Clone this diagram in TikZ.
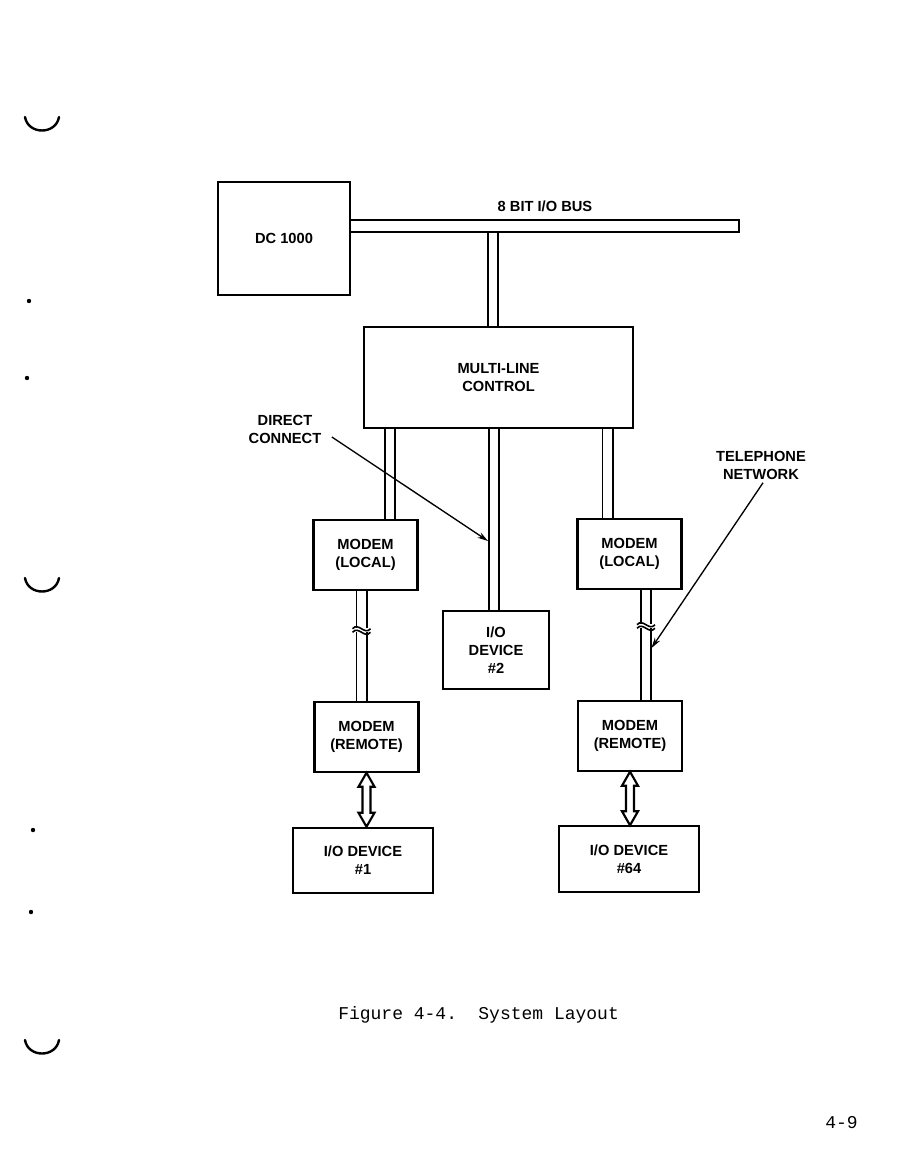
\documentclass[tikz,border=0pt]{standalone}
\usepackage{fontspec}
\setsansfont{Liberation Sans}
\setmonofont{Liberation Mono}
\usetikzlibrary{arrows.meta,calc,positioning,backgrounds}
\tikzset{
 layout/.style={x=.75pt,y=-.75pt,line join=miter},
 unit/.style={draw,line width=1.6pt,align=center,inner sep=0pt,
   font=\sffamily\bfseries\fontsize{11}{13.5}\selectfont},
 modem/.style={unit,minimum width=78pt,minimum height=52pt},
 device/.style={unit,minimum width=105pt,minimum height=49pt},
 bus/.style={draw,line width=1.3pt,double,double distance=6.4pt},
 wave/.style={draw,line width=1.2pt},
 tag/.style={align=center,inner sep=1pt,font=\sffamily\bfseries\fontsize{11}{13.5}\selectfont},
 pointer/.style={draw,line width=1pt,-{Stealth[length=8pt,width=4.6pt]}},
 caption/.style={font=\ttfamily\fontsize{13.5}{16}\selectfont,anchor=west,inner sep=0pt},
 hole/.style={line width=1.8pt,line cap=round}
}
\newcommand{\ioArrow}[2]{%
 \draw[line width=1.6pt,fill=white] (#1.south)
  -- ++(8,14) -- ++(-4,0) -- ($(#1.south |- #2.north)+(4,-14)$) -- ++(4,0)
  -- (#1.south |- #2.north) -- ++(-8,-14) -- ++(4,0)
  -- ($(#1.south)+(-4,14)$) -- ++(-4,0) -- cycle;}
\newcommand{\lineCut}[2]{%
 \draw[wave] ($(#1)+(-9,#2)$) .. controls +(6,-7) and +(-6,7) .. +(18,0);}

\begin{document}
\begin{tikzpicture}[layout]
 \useasboundingbox (0,0) rectangle (904,1173);
 % boxes
 \node[unit,minimum width=99pt,minimum height=84.75pt] (dc) at (284,238.5) {DC 1000};
 \node[unit,minimum width=201.75pt,minimum height=75.75pt] (mlc) at (498.5,377.5) {MULTI-LINE\\CONTROL};
 \node[modem] (modLL) at (365.5,555) {MODEM\\(LOCAL)};
 \node[modem] (modLR) at (629.5,554) {MODEM\\(LOCAL)};
 \node[unit,minimum width=79.5pt,minimum height=58.5pt] (dev2) at (496,650) {I/O\\DEVICE\\\#2};
 \node[modem] (remL) at (366.5,737) {MODEM\\(REMOTE)};
 \node[modem] (remR) at (630,736) {MODEM\\(REMOTE)};
 \node[device] (dev1) at (363,860.5) {I/O DEVICE\\\#1};
 \node[device] (dev64) at (629,859) {I/O DEVICE\\\#64};
 % labels
 \node[tag] (busLbl) at (545,206) {8 BIT I/O BUS};
 \node[tag] (direct) at (285,429) {DIRECT\\CONNECT};
 \node[tag] (phone) at (761,465) {TELEPHONE\\NETWORK};
 % line positions
 \coordinate (busT) at (493,232);
 \coordinate (xL) at (390,0);  \coordinate (xM) at (494,0);
 \coordinate (xR) at (607.5,0); \coordinate (xLL) at (361.5,0);
 \coordinate (xRR) at (646,0);
 \begin{scope}[on background layer]
 \draw[bus] (busT) -- (mlc.north -| busT);
 \draw[bus] (mlc.south -| xL) -- (modLL.north -| xL);
 \draw[bus] (mlc.south -| xM) -- (dev2.north -| xM);
 \draw[bus] (mlc.south -| xR) -- (modLR.north -| xR);
 \draw[bus] (modLL.south -| xLL) -- ++(0,37);
 \draw[bus] (remL.north -| xLL) -- ++(0,-69);
 \draw[bus] (modLR.south -| xRR) -- ++(0,34);
 \draw[bus] (remR.north -| xRR) -- ++(0,-72);
 \end{scope}
 \lineCut{modLL.south -| xLL}{38}
 \lineCut{remL.north -| xLL}{-69}
 \lineCut{modLR.south -| xRR}{35}
 \lineCut{remR.north -| xRR}{-72}
 % 8 bit bus
 \draw[line width=1.3pt] (dc.north east |- 0,220) -- (739,220) -- (739,232) -- (dc.north east |- 0,232);
 % remote links
 \ioArrow{remL}{dev1}
 \ioArrow{remR}{dev64}
 % pointers
 \coordinate (directTip) at (488,541);
 \coordinate (phoneTip) at (651.5,648);
 \draw[pointer] ($(direct.east)+(9,8)$) -- (directTip);
 \draw[pointer] ($(phone.south)+(2,2)$) -- (phoneTip);
 % caption and page
 \node[caption] (fig) at (338,1015) {Figure 4-4.\hspace{16pt}System Layout};
 \node[caption] (pageNo) at (825,1123) {4-9};
 % binder marks
 \foreach \hy in {117,578,1040}
  \draw[hole] (25,\hy) .. controls (28,\hy+18) and (56,\hy+18) .. (59,\hy);
 \foreach \sx/\sy in {29/301,27/378,33/830,31/912}
  \fill (\sx,\sy) circle (2.2);
\end{tikzpicture}
\end{document}
